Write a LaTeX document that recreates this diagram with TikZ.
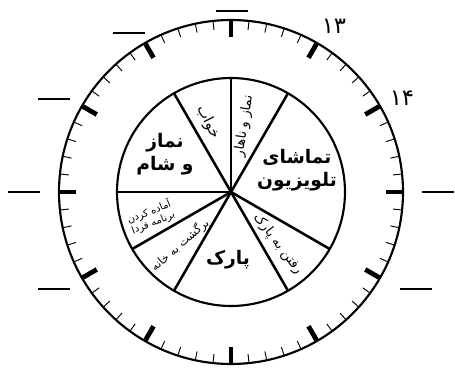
\documentclass[tikz,border=0pt]{standalone}
\usepackage{fontspec}
\usepackage{tikz}
\TeXXeTstate=1
\newfontfamily\arabicfont[Script=Arabic]{DejaVu Sans}
\newcommand{\fatext}[1]{\beginR #1\endR}

\begin{document}
\begin{tikzpicture}[x=0.75pt, y=0.75pt,
    rim/.style={line width=1.6pt},
    spoke/.style={line width=1.9pt},
    minortick/.style={line width=0.7pt},
    majortick/.style={line width=3.6pt},
    blank/.style={line width=1.3pt},
    lbl/.style={font=\arabicfont\fontsize{10}{11}\selectfont, inner sep=1pt, align=center},
    big/.style={lbl, font=\arabicfont\bfseries\fontsize{14}{17}\selectfont}]
  \useasboundingbox (-231,-180) rectangle (224,192);
  \coordinate (c) at (0,0);
  % clock face
  \draw[rim] (c) circle (172);
  \foreach \a in {0,6,...,354}
    \draw[minortick] (\a:172) -- (\a:163);
  \foreach \a in {0,30,...,330}
    \draw[majortick] (\a:172) -- (\a:155);
  % blanks for the hours
  \foreach \x/\y in {-15/181, -118/159, -193/93, -223/0, -193/-97, 191/0, 169/-97}
    \draw[blank] (\x,\y) -- ++(32,0);
  \node[lbl, font=\arabicfont\fontsize{17}{17}\selectfont] (h13) at (103,166) {۱۳};
  \node[lbl, font=\arabicfont\fontsize{17}{17}\selectfont] (h14) at (171,94) {۱۴};
  % day plan
  \draw[rim] (c) circle (114);
  \foreach \a in {90,60,-30,-60,-120,-150,180,120}
    \draw[spoke] (c) -- (\a:114);
  \node[big] (tv) at (66,22) {\fatext{تماشای}\\\fatext{تلویزیون}};
  \node[big] (park) at (-3,-68) {\fatext{پارک}};
  \node[big] (dinner) at (-66,38) {\fatext{نماز}\\\fatext{و شام}};
  \node[lbl, rotate=81] (lunch) at (13,66) {\fatext{نماز و ناهار}};
  \node[lbl, rotate=-63, font=\arabicfont\fontsize{11}{12}\selectfont] (sleep) at (-23,70) {\fatext{خواب}};
  \node[lbl, rotate=-53] (topark) at (47,-52) {\fatext{رفتن به پارک}};
  \node[lbl, rotate=41, font=\arabicfont\fontsize{8.5}{9.5}\selectfont] (home) at (-51,-53) {\fatext{برگشت به خانه}};
  \node[lbl, rotate=22, font=\arabicfont\fontsize{7.5}{8.5}\selectfont] (plan) at (-80,-25)
    {\fatext{آماده کردن}\\\fatext{برنامه فردا}};
\end{tikzpicture}
\end{document}
